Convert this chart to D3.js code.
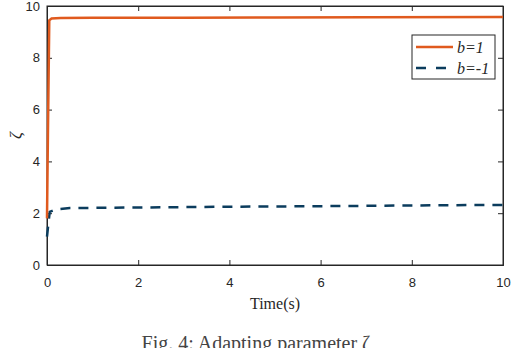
<!DOCTYPE html>
<html>
<head>
<script src="https://d3js.org/d3.v7.min.js"></script>
<style>
body { margin:0; background:#fff; }
</style>
</head>
<body>
<script>
var width = 512, height = 348;
var margin = {top:6, right:9, bottom:83, left:47};
var w = width - margin.left - margin.right;
var h = height - margin.top - margin.bottom;

// b=1 series
var t1 = [0, 0.02, 0.05, 0.1, 0.3, 1, 3, 5, 7, 10];
var z1 = [1.8, 5.0, 9.45, 9.52, 9.54, 9.55, 9.55, 9.56, 9.57, 9.58];
// b=-1 series
var t2 = [0, 0.03, 0.06, 0.2, 0.5, 2, 4, 6, 8, 10];
var z2 = [1.1, 1.6, 2.05, 2.15, 2.2, 2.22, 2.25, 2.27, 2.3, 2.32];

var xTicks = [0, 2, 4, 6, 8, 10];
var yTicks = [0, 2, 4, 6, 8, 10];

var x = d3.scaleLinear().domain([0, 10]).range([0, w]);
var y = d3.scaleLinear().domain([0, 10]).range([h, 0]);

var svg = d3.select("body").append("svg")
    .attr("width", width)
    .attr("height", height)
  .append("g")
    .attr("transform", "translate(" + margin.left + "," + margin.top + ")");

var line = d3.line()
    .x(function(d) { return x(d[0]); })
    .y(function(d) { return y(d[1]); });

// frame
svg.append("rect").attr("width", w).attr("height", h)
    .attr("fill", "none").attr("stroke", "#262626").attr("stroke-width", 1);

var gx = svg.append("g").attr("transform", "translate(0," + h + ")")
    .call(d3.axisBottom(x).tickValues(xTicks).tickSize(-5).tickPadding(13).tickFormat(d3.format("d")));
var gy = svg.append("g")
    .call(d3.axisLeft(y).tickValues(yTicks).tickSize(-5).tickPadding(7).tickFormat(d3.format("d")));
// top / right ticks
svg.append("g").call(d3.axisTop(x).tickValues(xTicks).tickSize(-5).tickFormat(""));
svg.append("g").attr("transform", "translate(" + w + ",0)")
    .call(d3.axisRight(y).tickValues(yTicks).tickSize(-5).tickFormat(""));

svg.selectAll(".domain").attr("stroke", "#262626");
svg.selectAll(".tick line").attr("stroke", "#262626");
svg.selectAll(".tick text").attr("fill", "#262626")
    .style("font-family", "Liberation Sans, Arial, sans-serif").style("font-size", "13px");

svg.append("path")
    .datum(t2.map(function(t, i) { return [t, z2[i]]; }))
    .attr("fill", "none").attr("stroke", "#0b3c5d").attr("stroke-width", 2.5)
    .attr("stroke-dasharray", "10,8")
    .attr("d", line);

svg.append("path")
    .datum(t1.map(function(t, i) { return [t, z1[i]]; }))
    .attr("fill", "none").attr("stroke", "#e05a1e").attr("stroke-width", 2.5)
    .attr("d", line);

// axis labels
svg.append("text")
    .attr("x", w / 2).attr("y", h + 44)
    .attr("text-anchor", "middle")
    .style("font-family", "Liberation Serif, Times New Roman, serif")
    .style("font-size", "16px").attr("fill", "#262626")
    .text("Time(s)");

svg.append("text")
    .attr("transform", "translate(-26," + (h / 2) + ") rotate(-90)")
    .attr("text-anchor", "middle")
    .style("font-family", "Liberation Serif, Times New Roman, serif")
    .style("font-style", "italic")
    .style("font-size", "17px").attr("fill", "#262626")
    .text("ζ");

// legend
var keys = ["b=1", "b=-1"];
var colors = ["#e05a1e", "#0b3c5d"];
var legend = svg.append("g").attr("transform", "translate(" + (412 - margin.left) + "," + (35 - margin.top) + ")");
legend.append("rect").attr("width", 83).attr("height", 44)
    .attr("fill", "#fff").attr("stroke", "#262626").attr("stroke-width", 1);
var items = legend.selectAll("g.item").data(keys).enter().append("g")
    .attr("transform", function(d, i) { return "translate(0," + (12 + i * 21) + ")"; });
items.append("line").attr("x1", 4).attr("x2", function(d, i) { return i ? 34 : 41; })
    .attr("stroke", function(d, i) { return colors[i]; })
    .attr("stroke-width", 2.5)
    .attr("stroke-dasharray", function(d, i) { return i ? "10,10" : null; });
items.append("text").attr("x", 45).attr("dy", "0.35em")
    .style("font-family", "Liberation Serif, Times New Roman, serif")
    .style("font-style", "italic").style("font-size", "16px").attr("fill", "#262626")
    .text(function(d) { return d; });

// caption
d3.select("svg").append("text")
    .attr("x", 256).attr("y", 350)
    .attr("text-anchor", "middle")
    .style("font-family", "Liberation Serif, Times New Roman, serif")
    .style("font-size", "20px").attr("fill", "#444")
    .text("Fig. 4: Adapting parameter ζ");
</script>
</body>
</html>
